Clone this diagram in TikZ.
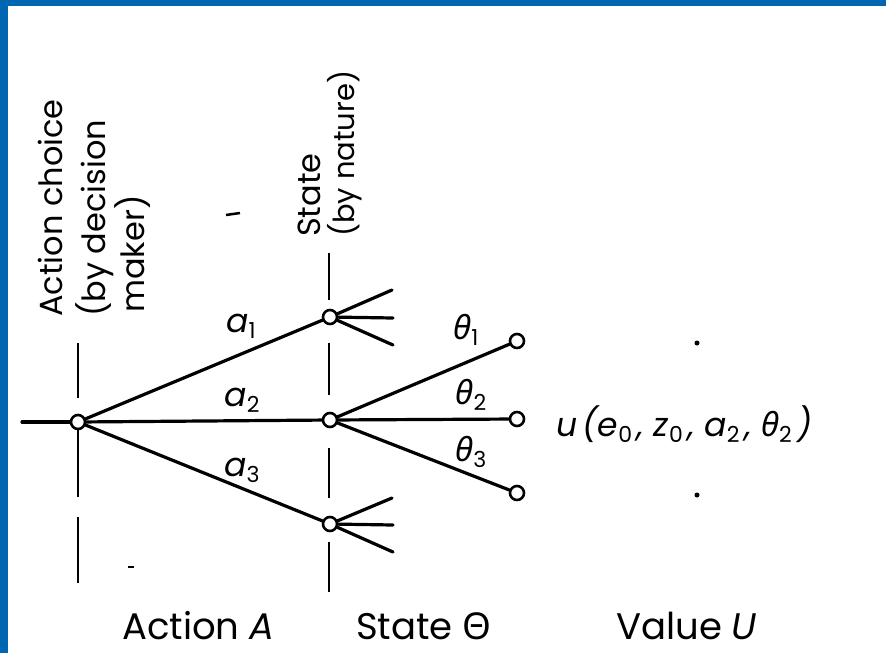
\documentclass[tikz,border=0pt]{standalone}
\usepackage{fontspec}
\setmainfont{Poppins}
\newfontfamily\grk{Noto Sans}
\definecolor{frameblue}{RGB}{0,102,178}
\newcommand\sbs[1]{\raisebox{-0.32ex}{\fontsize{22}{22}\selectfont\upshape #1}}
\begin{document}
\begin{tikzpicture}[x=1pt,y=-1pt,
  branch/.style={line width=3.2pt,line cap=round},
  guide/.style={line width=2.6pt},
  knot/.style={circle,draw,line width=2.6pt,fill=white,inner sep=0pt,minimum size=14pt},
  vlabel/.style={rotate=90,anchor=base west,inner sep=0pt,font=\fontsize{32}{33}\selectfont},
  blabel/.style={anchor=base west,inner sep=0pt,font=\fontsize{37}{38}\selectfont},
  mlabel/.style={inner sep=0pt,font=\fontsize{33}{34}\selectfont\itshape}]
\useasboundingbox (0,0) rectangle (886,653);
\fill[frameblue] (0,0) rectangle (886,653);
\fill[white] (8,6) rectangle (886,653);
% vertical titles
\node[vlabel] (t1) at (62,317) {Action choice};
\node[vlabel] (t2) at (105,317) {(by decision};
\node[vlabel] (t3) at (144,313) {maker)};
\node[vlabel] (t4) at (320,237) {State};
\node[vlabel,font=\fontsize{29}{30}\selectfont] (t5) at (354,237) {(by nature)};
% guide lines
\draw[guide] (78,343) -- (78,398) (78,430) -- (78,497) (78,517) -- (78,583);
\draw[guide] (329,253) -- (329,300) (329,343) -- (329,395) (329,448) -- (329,498) (329,542) -- (329,592);
% nodes
\node[knot] (A) at (78,422) {};
\coordinate (in) at (22,422);
\node[knot] (S1) at (330,317) {};
\node[knot] (S2) at (330,420) {};
\node[knot] (S3) at (330,524) {};
\node[knot] (L1) at (517,341) {};
\node[knot] (L2) at (517,419) {};
\node[knot] (L3) at (517,493) {};
\coordinate (f11) at (392,290);
\coordinate (f12) at (393,318);
\coordinate (f13) at (393,345);
\coordinate (f31) at (392,498);
\coordinate (f32) at (393,525);
\coordinate (f33) at (393,552);
% branches
\draw[branch] (in) -- (A);
\draw[branch] (A) -- (S1);
\draw[branch] (A) -- (S2);
\draw[branch] (A) -- (S3);
\draw[branch] (S2) -- (L1);
\draw[branch] (S2) -- (L2);
\draw[branch] (S2) -- (L3);
\draw[branch] (S1) -- (f11);
\draw[branch] (S1) -- (f12);
\draw[branch] (S1) -- (f13);
\draw[branch] (S3) -- (f31);
\draw[branch] (S3) -- (f32);
\draw[branch] (S3) -- (f33);
% labels
\node[mlabel] (la1) at (241,326) {a\sbs{1}};
\node[mlabel] (la2) at (242,400) {a\sbs{2}};
\node[mlabel] (la3) at (242,470) {a\sbs{3}};
\node[mlabel] (lt1) at (466,330) {{\grk θ}\sbs{1}};
\node[mlabel] (lt2) at (471,395) {{\grk θ}\sbs{2}};
\node[mlabel] (lt3) at (471,452) {{\grk θ}\sbs{3}};
\node[mlabel,anchor=west] (val) at (556,424) {u\,(e\sbs{0}\,, z\sbs{0}\,, a\sbs{2}\,, {\grk θ}\sbs{2}\,)};
% dots and marks
\fill (697,343) circle (2.5pt);
\fill (697,495) circle (2.5pt);
\draw[line width=2.5pt] (226,215) -- (240,213);
\draw[line width=1.2pt] (128,567) -- (134,567);
% bottom titles
\node[blabel] (b1) at (122,639) {Action \textit{A}};
\node[blabel] (b2) at (356,639) {State {\grk Θ}};
\node[blabel] (b3) at (616,639) {Value \textit{U}};
\end{tikzpicture}
\end{document}
